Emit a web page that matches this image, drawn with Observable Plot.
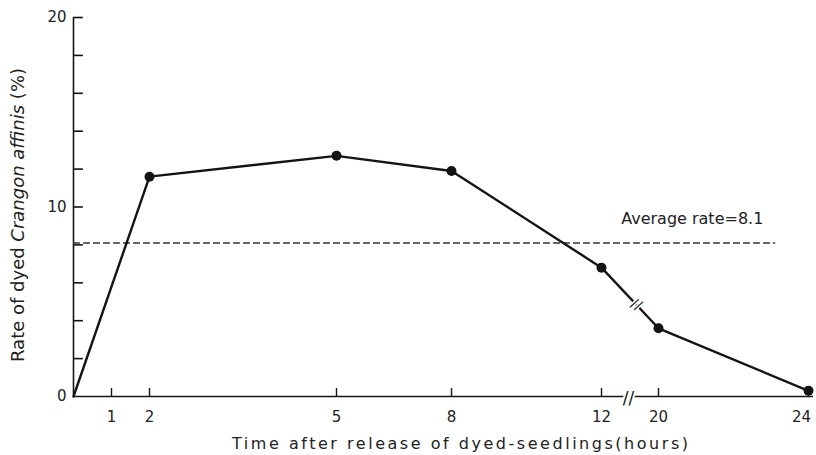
<!DOCTYPE html>
<html><head><meta charset="utf-8">
<script src="https://cdn.jsdelivr.net/npm/d3@7"></script>
<script src="https://cdn.jsdelivr.net/npm/@observablehq/plot@0.6"></script>
<style>body{margin:0;background:#fff}</style>
</head><body><div id="chart"></div>
<script>
// ---- data ----
const hours = [0, 2, 5, 8, 12, 20, 24];
const rate = [0, 11.6, 12.7, 11.9, 6.8, 3.6, 0.3];
const xTickValues = [1, 2, 5, 8, 12, 20, 24];
const yLabelValues = [0, 10, 20];
const yTickValues = [2, 4, 6, 8, 10, 12, 14, 16, 18, 20];
const averageRate = 8.1;
const averageEnd = 23.1;
const averageLabel = "Average rate=8.1";
const xTitle = "Time after release of dyed-seedlings(hours)";
const yTitleParts = [["Rate of dyed ", false], ["Crangon affinis", true], [" (%)", false]];

// the original axis is drawn piecewise (broken between 12 and 20)
const xBreaks = [0, 2, 5, 8, 12, 20, 24];
const xPixels = [73, 149, 336, 451, 601, 658, 808];

const points = hours.map((h, i) => ({hours: h, rate: rate[i]}));
const avgLine = [{hours: 0, rate: averageRate}, {hours: averageEnd, rate: averageRate}];
const lastTick = xTickValues[xTickValues.length - 1];
const ink = "#141414";

const chart = Plot.plot({
  width: 816, height: 455,
  marginLeft: 73, marginRight: 3, marginTop: 16, marginBottom: 59,
  style: {fontFamily: "DejaVu Sans", fontSize: "15px", color: "#222", background: "#fff"},
  x: {type: "linear", domain: xBreaks, range: xPixels, label: null},
  y: {domain: [0, 20], range: [396, 17], label: null},
  marks: [
    Plot.ruleY([0], {stroke: ink, strokeWidth: 1.6}),
    Plot.ruleX([0], {y1: 0, y2: 20, stroke: ink, strokeWidth: 1.6}),
    Plot.ruleY(yTickValues, {y: d => d, x1: 0, x2: 0.26, stroke: ink, strokeWidth: 1.6}),
    Plot.ruleX(xTickValues, {x: d => d, y1: 0, y2: 0.42, stroke: ink, strokeWidth: 1.4}),
    Plot.axisX({ticks: xTickValues.slice(0, -1), tickSize: 0, tickPadding: 15, label: null, fontSize: 15}),
    Plot.axisX({ticks: [lastTick], tickSize: 0, tickPadding: 15, label: null, fontSize: 15, dx: -7}),
    Plot.axisY({ticks: yLabelValues, tickSize: 0, tickPadding: 7, label: null, fontSize: 15}),
    Plot.line(avgLine, {x: "hours", y: "rate", stroke: "#333", strokeWidth: 1.3, strokeDasharray: "6,4"}),
    Plot.text([avgLine[1]], {x: d => d.hours - 2.2, y: "rate", text: () => averageLabel, dy: -24, fontSize: 16, fill: "#222"}),
    Plot.line(points, {x: "hours", y: "rate", stroke: ink, strokeWidth: 2.4}),
    Plot.dot(points.slice(1), {x: "hours", y: "rate", r: 5, fill: ink}),
    Plot.text([{hours: 15.8, rate: 0}], {x: "hours", y: "rate", text: () => "//", fontSize: 17, fill: ink, stroke: "white", strokeWidth: 4, dy: 2}),
    Plot.text([{hours: 16.9, rate: 4.85}], {x: "hours", y: "rate", text: () => "//", fontSize: 14, fill: ink, stroke: "white", strokeWidth: 3, rotate: 30})
  ]
});
document.getElementById("chart").appendChild(chart);

const svg = d3.select(chart);
svg.append("text")
  .attr("x", 460).attr("y", 449)
  .attr("text-anchor", "middle")
  .attr("font-family", "DejaVu Sans").attr("font-size", 16).attr("fill", "#222")
  .attr("textLength", 456).attr("lengthAdjust", "spacing")
  .text(xTitle);
const yt = svg.append("text")
  .attr("transform", "translate(24,215) rotate(-90)")
  .attr("text-anchor", "middle")
  .attr("font-family", "DejaVu Sans").attr("font-size", 18).attr("fill", "#222");
yTitleParts.forEach(([t, it]) => yt.append("tspan").attr("font-style", it ? "italic" : "normal").text(t));
</script>
</body></html>
